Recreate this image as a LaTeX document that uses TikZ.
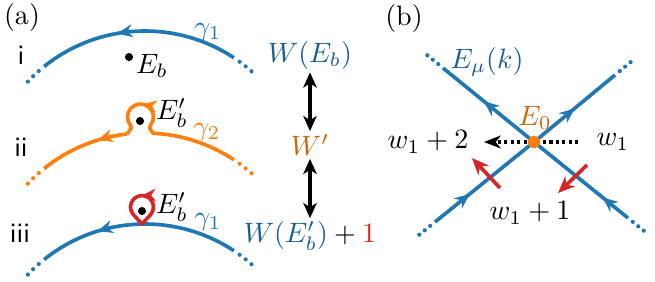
\documentclass[tikz,border=0pt]{standalone}
\usepackage{amsmath, amssymb}
\usepackage{tikz}
\usetikzlibrary{arrows.meta, calc, decorations.markings}
\usepackage{xcolor}
\definecolor{mplblue}{HTML}{1F77B4}
\definecolor{mplorange}{HTML}{FF7F0E}
\definecolor{mplred}{HTML}{D62728}
\colorlet{bluetext}{mplblue!80!black}
\colorlet{orangetext}{mplorange!80!black}

\begin{document}
\begin{tikzpicture}[x=0.01255cm, y=0.01255cm,
  tip/.style={-{Stealth[length=5pt,width=4.4pt,inset=1.6pt]}},
  midarrow/.style={postaction={decorate,decoration={markings,
      mark=at position #1 with {\arrow{Stealth[length=5.4pt,width=4.6pt,inset=1.8pt]}}}}},
  band/.style={line width=1.3pt},
  spot/.style={circle, fill, inner sep=0pt, minimum size=2.9pt},
  lbl/.style={inner sep=1pt},
  dbl/.style={line width=1.2pt, {Stealth[length=5.4pt,width=4.8pt,inset=1.5pt]}-{Stealth[length=5.4pt,width=4.8pt,inset=1.5pt]}}]
  \useasboundingbox (0,0) rectangle (655,281);

  % Panel (a): three contours
  \node (pa) at (22,264) {(a)};
  \node (ri) at (21,226) {\textsf{i}};
  \node (rii) at (21,134) {\textsf{ii}};
  \node (riii) at (20,48) {\textsf{iii}};

  % Centres of the contour arcs
  \coordinate (c1) at (145,89);
  \coordinate (c2) at (145,-13);
  \coordinate (c3) at (145,-104);

  % Contour i
  \draw[band, mplblue, midarrow=0.6] ($(c1)+(56.5:161)$) arc[start angle=56.5, end angle=128.8, radius=161];
  \foreach \a in {131.3,134,136.7,54,51.3,48.6}
    \fill[mplblue] ($(c1)+(\a:161)$) circle (2.1);
  \node[spot] (Eb) at (129,224) {};
  \node (lEb) at (152,215) {$E_b$};
  \node[text=mplblue] (g1) at (208,249) {$\gamma_1$};

  % Contour ii, with the small loop
  \coordinate (lp2) at (140.5,164);
  \draw[band, mplorange, line join=round] ($(c2)+(56.5:161)$) arc[start angle=56.5, end angle=87.2, radius=161]
    to[out=120, in=230] ($(lp2)+(-40:13)$) arc[start angle=-40, end angle=220, radius=13]
    to[out=-50, in=60] ($(c2)+(96.4:161)$);
  \draw[band, mplorange, midarrow=0.33] ($(c2)+(96.4:161)$) arc[start angle=96.4, end angle=128.8, radius=161];
  \draw[band, mplorange, tip] ($(lp2)+(45:13)$) arc[start angle=45, end angle=80, radius=13];
  \foreach \a in {131.3,134,136.7,54,51.3,48.6}
    \fill[mplorange] ($(c2)+(\a:161)$) circle (2.1);
  \node[spot] (Ebp) at (140,160) {};
  \node (lEbp) at (172,168) {$E_b'$};
  \node[text=mplorange] (g2) at (207,149) {$\gamma_2$};

  % Contour iii, with the red loop
  \draw[band, mplblue, midarrow=0.7] ($(c3)+(56.5:161)$) arc[start angle=56.5, end angle=128.8, radius=161];
  \foreach \a in {131.3,134,136.7,54,51.3,48.6}
    \fill[mplblue] ($(c3)+(\a:161)$) circle (2.1);
  \coordinate (lp3) at (142,74);
  \coordinate (tp3) at (142,57);
  \draw[band, mplred, line join=round] (tp3) -- ($(lp3)+(-42.6:11.5)$) arc[start angle=-42.6, end angle=222.6, radius=11.5] -- cycle;
  \draw[band, mplred, tip] ($(lp3)+(58:11.5)$) arc[start angle=58, end angle=92, radius=11.5];
  \node[spot] (Ebq) at (142,70) {};
  \node (lEbq) at (172,74) {$E_b'$};
  \node[text=mplblue] (g1b) at (208,59) {$\gamma_1$};

  % Winding numbers
  \node[text=bluetext, lbl] (WEb) at (310,226) {$W(E_b)$};
  \node[text=orangetext, lbl] (Wp) at (310,136) {$W'$};
  \node[lbl] (WEbp) at (310,45) {$\textcolor{bluetext}{W(E_b')}+\textcolor{mplred}{1}$};
  \draw[dbl] (WEb) -- (Wp);
  \draw[dbl] (Wp) -- (WEbp);

  % Panel (b): band crossing
  \node (pb) at (404,263) {(b)};
  \coordinate (E0) at (534,139);
  \coordinate (ul) at (443,213);
  \coordinate (ur) at (615,206);
  \coordinate (ll) at (435,59);
  \coordinate (lr) at (628,63);
  \draw[band, mplblue, midarrow=0.55] (E0) -- (ul);
  \draw[band, mplblue, midarrow=0.5] (E0) -- (ur);
  \draw[band, mplblue, midarrow=0.35] (ll) -- (E0);
  \draw[band, mplblue, midarrow=0.27] (lr) -- (E0);
  \foreach \e in {ul,ur,ll,lr}
    \foreach \d in {-2.2pt,-4.7pt,-7.2pt}
      \fill[mplblue] ($(\e)!\d!(E0)$) circle (2.1);
  \node[text=bluetext] (lEk) at (487,219) {$E_\mu(k)$};

  \node (w1) at (613,139) {$w_1$};
  \node (w12) at (428,139) {$w_1+2$};
  \draw[line width=1.15pt, dash pattern=on 1.15pt off 1.15pt, shorten <=3pt, shorten >=2pt,
    -{Stealth[length=6pt,width=4.6pt,inset=1.8pt]}] (w1) -- (w12);
  \node[circle, fill=mplorange, inner sep=0pt, minimum size=4.4pt] (E0dot) at (E0) {};
  \node[text=orangetext] (lE0) at (535,163) {$E_0$};

  % Red shifts
  \coordinate (ra1) at (500,93);
  \coordinate (ra2) at (472,123);
  \coordinate (rb1) at (587,116);
  \coordinate (rb2) at (558,88);
  \draw[band, mplred, -{Stealth[length=6pt,width=5pt,inset=1.8pt]}] (ra1) -- (ra2);
  \draw[band, mplred, -{Stealth[length=6pt,width=5pt,inset=1.8pt]}] (rb1) -- (rb2);
  \node (w11) at (530,68) {$w_1+1$};
\end{tikzpicture}
\end{document}
